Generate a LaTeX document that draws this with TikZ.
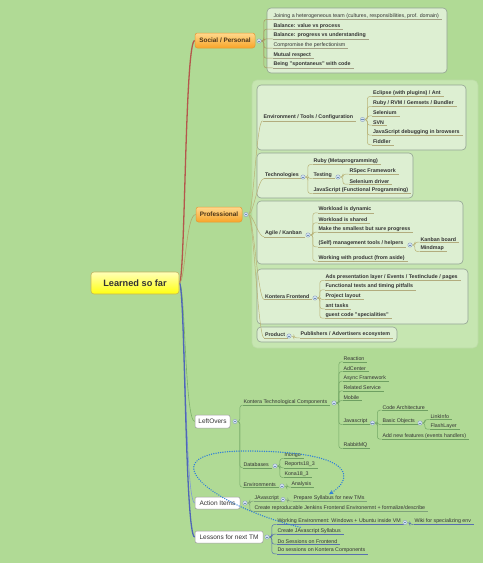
\documentclass[tikz,border=0pt]{standalone}
\usepackage{fontspec}
\setmainfont{Liberation Sans}
\usetikzlibrary{arrows.meta}
\definecolor{bgc}{HTML}{B0DA95}
\definecolor{bigf}{HTML}{C6E6B1}
\definecolor{bigd}{HTML}{BCDCA6}
\definecolor{grpf}{HTML}{DDEFD2}
\definecolor{grpd}{HTML}{93A393}
\definecolor{txt}{HTML}{333333}
\definecolor{cib}{HTML}{8FA3BC}
\definecolor{cif}{HTML}{D3E2F2}
\definecolor{cim}{HTML}{6F8FB5}
\definecolor{ornd}{HTML}{E39A38}
\definecolor{ornt}{HTML}{FFD98E}
\definecolor{ornb}{HTML}{F8A428}
\definecolor{orntx}{HTML}{4A3418}
\definecolor{whd}{HTML}{9A9A9A}
\definecolor{rootd}{HTML}{C2B35E}
\definecolor{roott}{HTML}{FFFFB8}
\definecolor{rootb}{HTML}{FFFF10}
\definecolor{lnsoc}{HTML}{B4574C}
\definecolor{lnpro}{HTML}{B2A66A}
\definecolor{lnlo}{HTML}{7CB068}
\definecolor{lnai}{HTML}{7E9BD6}
\definecolor{lnln}{HTML}{4F66B6}
\definecolor{socc}{HTML}{A89862}
\definecolor{socu}{HTML}{A3A085}
\definecolor{proc}{HTML}{B9B276}
\definecolor{prou}{HTML}{B2AC7E}
\definecolor{loc}{HTML}{74A866}
\definecolor{lou}{HTML}{6E9F62}
\definecolor{aic}{HTML}{7FA27A}
\definecolor{lnu}{HTML}{5870B0}
\definecolor{relc}{HTML}{2F7FD8}
\pgfdeclarelayer{bgl}
\pgfdeclarelayer{boxes}
\pgfdeclarelayer{lines}
\pgfsetlayers{bgl,boxes,lines,main}
\newcommand\lf[5][lf]{\node[#1] (#2) at (#3,#4) {#5};\draw[ul] (#2.south west) -- ([xshift=2pt]#2.south east);}
\newcommand\ci[3]{\node[ci] (#1) at (#2,#3) {};}
\newcommand\cn[2]{\draw[cn] (#1.east) -- ++(2.5,0) |- (#2.south west);}
\begin{document}
\begin{tikzpicture}[x=1pt,y=-1pt,
  lf/.style={anchor=south west, inner sep=0.8pt, font=\fontsize{5.3}{5.8}\selectfont, text=txt},
  blf/.style={lf, font=\fontsize{5.3}{5.8}\selectfont\bfseries},
  llf/.style={lf, font=\fontsize{5.3}{5.8}\selectfont},
  ul/.style={draw=socu, line width=0.5pt},
  cn/.style={draw=socc, line width=0.5pt, rounded corners=2.5pt},
  ci/.style={circle, draw=cib, fill=cif, minimum size=4.4pt, inner sep=0pt, line width=0.35pt,
    path picture={\draw[cim,line width=0.45pt] ([xshift=-1.2pt]path picture bounding box.center) -- ([xshift=1.2pt]path picture bounding box.center);}},
  grp/.style={fill=grpf, draw=grpd, line width=0.6pt, rounded corners=4pt},
  orn/.style={rounded corners=2.5pt, draw=ornd, line width=0.5pt, top color=ornt, bottom color=ornb, font=\fontsize{6.4}{7}\selectfont\bfseries, text=orntx, inner sep=0pt},
  wht/.style={rounded corners=2pt, fill=white, draw=whd, line width=0.5pt, font=\fontsize{6.5}{7}\selectfont, text=txt, inner sep=0pt},
  rel/.style={draw=relc, line width=1.5pt, dash pattern=on 0.01pt off 2.3pt, line cap=round}
]
\begin{pgfonlayer}{bgl}
\fill[bgc] (0,0) rectangle (483,563);
\end{pgfonlayer}
\useasboundingbox (0,0) rectangle (483,563);

% ---------- main nodes ----------
\node[rounded corners=3pt, draw=rootd, line width=0.6pt, top color=roott, bottom color=rootb, minimum width=88pt, minimum height=22pt, font=\fontsize{9.2}{10}\selectfont\bfseries, text=txt, inner sep=0pt] (root) at (135,283) {Learned so far};
\node[orn, minimum width=60pt, minimum height=15pt] (soc) at (225,40.5) {Social / Personal};
\ci{socci}{259}{41}
\node[orn, minimum width=46pt, minimum height=15pt] (pro) at (219,214.5) {Professional};
\ci{proci}{246}{214.5}
\node[wht, minimum width=35pt, minimum height=13pt] (lo) at (212.5,421.5) {LeftOvers};
\ci{loci}{235}{421.5}
\node[wht, minimum width=45pt, minimum height=12pt] (ai) at (217.5,503) {Action Items};
\ci{aici}{245}{503}
\node[wht, minimum width=68pt, minimum height=12pt] (ln) at (229,537) {Lessons for next TM};
\ci{lnci}{267}{537}

\begin{pgfonlayer}{lines}
\draw[lnsoc, line width=1.3pt] (root.east) .. controls +(6,0) and +(-10,0) .. (soc.west);
\draw[lnpro, line width=0.6pt] (root.east) .. controls +(6,0) and +(-10,0) .. (pro.west);
\draw[lnlo, line width=0.6pt] (root.east) .. controls +(6,0) and +(-10,0) .. (lo.west);
\draw[lnai, line width=0.6pt] (root.east) .. controls +(6,0) and +(-10,0) .. (ai.west);
\draw[lnln, line width=1.3pt] (root.east) .. controls +(6,0) and +(-10,0) .. (ln.west);
\end{pgfonlayer}

% ---------- Social / Personal ----------
\begin{pgfonlayer}{boxes}
\draw[grp] (267,8) rectangle (447,73);
\end{pgfonlayer}
\lf{s1}{272.5}{19.5}{Joining a heterogeneous team (cultures, responsibilities, prof. domain)}
\lf[blf]{s2}{272.5}{29.2}{Balance: value vs process}
\lf[blf]{s3}{272.5}{38.8}{Balance: progress vs understanding}
\lf{s4}{272.5}{48.2}{Compromise the perfectionism}
\lf[blf]{s5}{272.5}{58.2}{Mutual respect}
\lf[blf]{s6}{272.5}{67.8}{Being "spontaneus" with code}
\begin{pgfonlayer}{lines}
\foreach \n in {s1,s2,s3,s4,s5,s6}{\cn{socci}{\n}}
\end{pgfonlayer}

% ---------- Professional ----------
\begin{scope}[ul/.style={draw=prou, line width=0.5pt}, cn/.style={draw=proc, line width=0.5pt, rounded corners=2.5pt}]
\begin{pgfonlayer}{boxes}
\draw[fill=bigf, draw=bigd, line width=0.6pt, rounded corners=5pt] (252,80) rectangle (478,348);
\draw[grp] (257,85) rectangle (466,150);
\draw[grp] (257,153) rectangle (413,198);
\draw[grp] (257,201) rectangle (463,264);
\draw[grp] (257,269) rectangle (468,324);
\draw[grp] (257,327) rectangle (397,342);
\end{pgfonlayer}
% environment
\lf[blf]{env}{262.5}{120.8}{Environment / Tools / Configuration}
\ci{envci}{362.5}{119.5}
\lf[blf]{e1}{372}{96.5}{Eclipse (with plugins) / Ant}
\lf[blf]{e2}{372}{106.5}{Ruby / RVM / Gemsets / Bundler}
\lf[blf]{e3}{372}{115.8}{Selenium}
\lf[blf]{e4}{372}{125.2}{SVN}
\lf[blf]{e5}{372}{135.2}{JavaScript debugging in browsers}
\lf[blf]{e6}{372}{144.8}{Fiddler}
% technologies
\lf[blf]{tec}{264}{178.5}{Technologies}
\ci{tecci}{303}{177}
\lf[blf]{t1}{312.5}{164.5}{Ruby (Metaprogramming)}
\lf[blf]{tst}{312.5}{178.5}{Testing}
\ci{tstci}{338}{177}
\lf[blf]{t3}{312.5}{193.5}{JavaScript (Functional Programming)}
\lf[blf]{r1}{348.5}{174.2}{RSpec Framework}
\lf[blf]{r2}{348.5}{184.2}{Selenium driver}
% agile
\lf[blf]{agl}{264}{236.8}{Agile / Kanban}
\ci{aglci}{308}{235}
\lf[blf]{a1}{317.5}{212.8}{Workload is dynamic}
\lf[blf]{a2}{317.5}{222.8}{Workload is shared}
\lf[blf]{a3}{317.5}{232.2}{Make the smallest but sure progress}
\lf[blf]{a4}{317.5}{246.8}{(Self) management tools / helpers}
\ci{a4ci}{410}{245}
\lf[blf]{a5}{317.5}{261.2}{Working with product (from aside)}
\lf[blf]{k1}{419.5}{242.2}{Kanban board}
\lf[blf]{k2}{419.5}{251.5}{Mindmap}
% kontera frontend
\lf[blf]{kf}{264}{299.5}{Kontera Frontend}
\ci{kfci}{315}{298}
\lf[blf]{f1}{324.5}{280.5}{Ads presentation layer / Events / TestInclude / pages}
\lf[blf]{f2}{324.5}{289.8}{Functional tests and timing pitfalls}
\lf[blf]{f3}{324.5}{299.5}{Project layout}
\lf[blf]{f4}{324.5}{308.8}{ant tasks}
\lf[blf]{f5}{324.5}{318.2}{guest code "specialities"}
% product
\lf[blf]{prd}{264}{337.8}{Product}
\ci{prdci}{289}{336}
\lf[blf]{pub}{299.5}{337.8}{Publishers / Advertisers ecosystem}
\begin{pgfonlayer}{lines}
\foreach \n in {env,tec,agl,kf,prd}{\draw[cn] (proci.east) .. controls +(5,0) and +(-6,0) .. (\n.south west);}
\foreach \n in {e1,e2,e3,e4,e5,e6}{\cn{envci}{\n}}
\foreach \n in {t1,tst,t3}{\cn{tecci}{\n}}
\foreach \n in {r1,r2}{\cn{tstci}{\n}}
\foreach \n in {a1,a2,a3,a4,a5}{\cn{aglci}{\n}}
\foreach \n in {k1,k2}{\cn{a4ci}{\n}}
\foreach \n in {f1,f2,f3,f4,f5}{\cn{kfci}{\n}}
\cn{prdci}{pub}
\end{pgfonlayer}
\end{scope}

% ---------- LeftOvers ----------
\begin{scope}[ul/.style={draw=lou, line width=0.5pt}, cn/.style={draw=loc, line width=0.5pt, rounded corners=2.5pt}]
\lf[llf]{ktc}{242.5}{405.2}{Kontera Technological Components}
\ci{ktcci}{334}{403}
\lf[llf]{c1}{342.5}{361.8}{Reaction}
\lf[llf]{c2}{342.5}{371.5}{AdCenter}
\lf[llf]{c3}{342.5}{381.2}{Async Framework}
\lf[llf]{c4}{342.5}{390.8}{Related Service}
\lf[llf]{c5}{342.5}{400.5}{Mobile}
\lf[llf]{js}{342.5}{424.5}{Javascript}
\ci{jsci}{372.5}{423}
\lf[llf]{c7}{342.5}{448.5}{RabbitMQ}
\lf[llf]{j1}{381.5}{410.2}{Code Architecture}
\lf[llf]{bo}{381.5}{424.5}{Basic Objects}
\ci{boci}{420}{423}
\lf[llf]{j3}{381.5}{439.2}{Add new features (events handlers)}
\lf[llf]{b1}{429.5}{419.5}{LinkInfo}
\lf[llf]{b2}{429.5}{429.2}{FlashLayer}
\lf[llf]{db}{242.5}{467.8}{Databases}
\ci{dbci}{275}{466}
\lf[llf]{d1}{283.5}{458.5}{mongo}
\lf[llf]{d2}{283.5}{467.8}{Reports18\_3}
\lf[llf]{d3}{283.5}{477.5}{Kona18\_3}
\lf[llf]{evs}{242.5}{487.2}{Environments}
\ci{evsci}{282}{486}
\lf[llf]{an}{290.5}{487.2}{Analysis}
\begin{pgfonlayer}{lines}
\foreach \n in {ktc,db,evs}{\cn{loci}{\n}}
\foreach \n in {c1,c2,c3,c4,c5,js,c7}{\cn{ktcci}{\n}}
\foreach \n in {j1,bo,j3}{\cn{jsci}{\n}}
\foreach \n in {b1,b2}{\cn{boci}{\n}}
\foreach \n in {d1,d2,d3}{\cn{dbci}{\n}}
\cn{evsci}{an}
\end{pgfonlayer}
\end{scope}

% ---------- Action Items ----------
\begin{scope}[ul/.style={draw=aic, line width=0.5pt}, cn/.style={draw=aic, line width=0.5pt, rounded corners=2.5pt}]
\lf[llf]{aj}{253.5}{501.2}{JAvascript}
\ci{ajci}{283}{499.5}
\lf[llf]{prep}{292.5}{501.2}{Prepare Syllabus for new TMs}
\lf[llf]{acr}{253.5}{511.2}{Create reproducable Jenkins Frontend Environemnt + formalize/describe}
\begin{pgfonlayer}{lines}
\foreach \n in {aj,acr}{\cn{aici}{\n}}
\cn{ajci}{prep}
\end{pgfonlayer}
\end{scope}

% ---------- Lessons for next TM ----------
\begin{scope}[ul/.style={draw=lnu, line width=0.5pt}, cn/.style={draw=lnu, line width=0.5pt, rounded corners=2.5pt}]
\lf[llf]{lw}{276.5}{524.5}{Working Environment: Windows + Ubuntu inside VM}
\ci{lwci}{405}{522.5}
\lf[llf]{wiki}{413.5}{524.5}{Wiki for specializing env}
\lf[llf]{cjs}{276.5}{534.2}{Create JAvascript Syllabus}
\lf[llf]{l3}{276.5}{544.2}{Do Sessions on Frontend}
\lf[llf]{l4}{276.5}{553.8}{Do sessions on Kontera Components}
\begin{pgfonlayer}{lines}
\foreach \n in {lw,cjs,l3,l4}{\cn{lnci}{\n}}
\cn{lwci}{wiki}
\end{pgfonlayer}
\end{scope}

% ---------- relationship ----------
\coordinate (relmid) at (250,451);
\draw[rel, -{Stealth[length=4.5pt,width=4pt]}] ([xshift=-9pt]cjs.north) .. controls (210,505) and (140,450) .. (relmid) .. controls (360,452) and (352,480) .. (prep.north);
\end{tikzpicture}
\end{document}
